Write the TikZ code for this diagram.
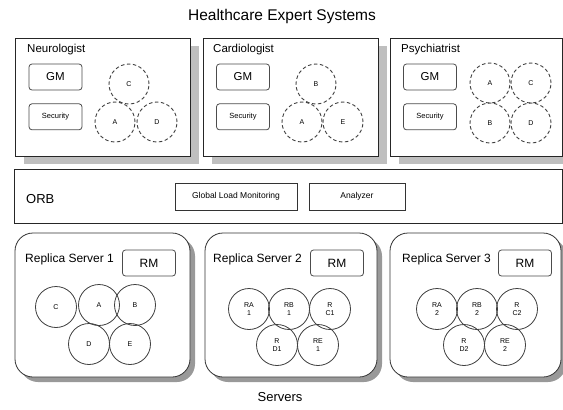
\documentclass[tikz,border=0pt]{standalone}
\usepackage{fontspec}
\setmainfont{Liberation Sans}
\usetikzlibrary{positioning, shadows}

\begin{document}
\begin{tikzpicture}[
  x=1pt, y=-1pt,
  node distance = 13pt,
  panel/.style = {draw=black!85, fill=white, line width=0.8pt, minimum width=175pt, minimum height=118pt, inner sep=0pt,
    drop shadow={shadow xshift=9pt, shadow yshift=-8pt, fill=black!25, opacity=1}},
  server/.style = {draw=black!80, fill=white, line width=0.8pt, rounded corners=18pt, minimum height=144pt, inner sep=0pt,
    drop shadow={shadow xshift=5pt, shadow yshift=-5pt, fill=black!40, opacity=1}},
  tag/.style = {anchor=west, inner sep=0pt, font=\fontsize{11.5}{13}\selectfont},
  unit/.style = {draw=black!70, rounded corners=3pt, line width=0.8pt, minimum width=53pt, minimum height=26pt, inner sep=0pt, font=\fontsize{11.5}{13}\selectfont},
  small/.style = {font=\fontsize{7.5}{9}\selectfont},
  agent/.style = {circle, draw=black!75, dash pattern=on 3.5pt off 2.5pt, line width=0.9pt, minimum size=40pt, inner sep=0pt, font=\fontsize{7}{8}\selectfont},
  replica/.style = {circle, draw=black!75, line width=0.8pt, minimum size=41pt, inner sep=0pt, align=center, font=\fontsize{7}{7.5}\selectfont},
  orbbox/.style = {draw=black!80, line width=0.8pt, minimum height=27pt, inner sep=0pt, font=\fontsize{8.5}{10}\selectfont}
]
\useasboundingbox (0,0) rectangle (563,410);

\node[font=\fontsize{15.5}{18}\selectfont] (title) at (282,16) {Healthcare Expert Systems};

% expert system panels
\node[panel] (neuro) at (102.5,97) {};
\node[panel] (cardio) at (290.5,97) {};
\node[panel, minimum width=172pt] (psych) at (476,97) {};

\node[tag] (neuroT) at (27,50) {Neurologist};
\node[tag] (cardioT) at (213,50) {Cardiologist};
\node[tag] (psychT) at (401,50) {Psychiatrist};

\node[unit] (neuroGM) at (55.5,77) {GM};
\node[unit, small, below=of neuroGM] (neuroSec) {Security};
\node[unit] (cardioGM) at (243,77) {GM};
\node[unit, small, below=of cardioGM] (cardioSec) {Security};
\node[unit] (psychGM) at (430,77) {GM};
\node[unit, small, below=of psychGM] (psychSec) {Security};

\node[agent] (nC) at (129,84) {C};
\node[agent] (nA) at (115,122) {A};
\node[agent] (nD) at (157,122) {D};

\node[agent] (cB) at (316,84) {B};
\node[agent] (cA) at (302,122) {A};
\node[agent] (cE) at (343,122) {E};

\node[agent] (pA) at (490,83) {A};
\node[agent] (pC) at (531,83) {C};
\node[agent] (pB) at (490,123) {B};
\node[agent] (pD) at (531,123) {D};

% ORB layer
\node[draw=black!85, line width=0.8pt, minimum width=548pt, minimum height=54pt, inner sep=0pt] (orb) at (288,196) {};
\node[tag, font=\fontsize{13}{15}\selectfont] (orbT) at (26,199) {ORB};
\node[orbbox, minimum width=122pt] (glm) at (236,196.5) {Global Load Monitoring};
\node[orbbox, minimum width=96pt] (analyzer) at (357,196.5) {Analyzer};

% replica servers
\node[server, minimum width=175pt] (rs1) at (102.5,305) {};
\node[server, minimum width=172pt] (rs2) at (291,305) {};
\node[server, minimum width=171pt] (rs3) at (475.5,305) {};

\node[tag, font=\fontsize{12}{14}\selectfont] (rs1T) at (25,259) {Replica Server 1};
\node[tag, font=\fontsize{12}{14}\selectfont] (rs2T) at (213,259) {Replica Server 2};
\node[tag, font=\fontsize{12}{14}\selectfont] (rs3T) at (402,259) {Replica Server 3};

\node[unit, font=\fontsize{12}{14}\selectfont] (rm1) at (149,263) {RM};
\node[unit, font=\fontsize{12}{14}\selectfont] (rm2) at (337,263) {RM};
\node[unit, font=\fontsize{12}{14}\selectfont] (rm3) at (525,263) {RM};

\node[replica] (s1C) at (56,307) {C};
\node[replica] (s1A) at (99,305) {A};
\node[replica] (s1B) at (135,305) {B};
\node[replica] (s1D) at (89,344) {D};
\node[replica] (s1E) at (130,344) {E};

\node[replica] (s2A) at (249,309) {RA\\1};
\node[replica] (s2B) at (289,309) {RB\\1};
\node[replica] (s2C) at (330,309) {R\\C1};
\node[replica] (s2D) at (277,345) {R\\D1};
\node[replica] (s2E) at (318,345) {RE\\1};

\node[replica] (s3A) at (437,309) {RA\\2};
\node[replica] (s3B) at (477,309) {RB\\2};
\node[replica] (s3C) at (517,309) {R\\C2};
\node[replica] (s3D) at (464,345) {R\\D2};
\node[replica] (s3E) at (505,345) {RE\\2};

\node[font=\fontsize{13}{15}\selectfont] (servers) at (280,397) {Servers};
\end{tikzpicture}
\end{document}
